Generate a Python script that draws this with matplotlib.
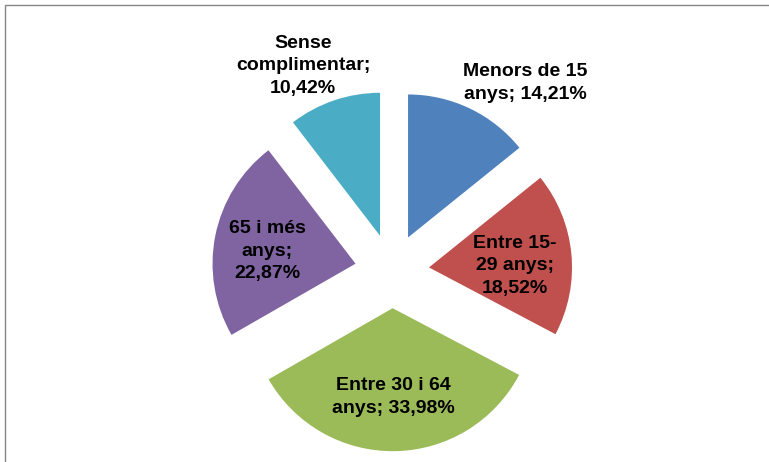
import matplotlib.pyplot as plt
from matplotlib.patches import Rectangle

# data
labels = ["Menors de 15\nanys; 14,21%", "Entre 15-\n29 anys;\n18,52%",
          "Entre 30 i 64\nanys; 33,98%", "65 i més\nanys;\n22,87%",
          "Sense\ncomplimentar;\n10,42%"]
values = [14.21, 18.52, 33.98, 22.87, 10.42]
colors = ["#4F81BD", "#C0504D", "#9BBB59", "#8064A2", "#4BACC6"]
# label centres in pixels (x, y from top), as Excel placed them
label_px = [(525, 83), (515, 266), (393, 397), (267, 251), (303, 66)]

W, H = 769, 462
R = 143.0           # pie radius in px
cx, cy = 392, 271   # pie centre in px from top-left

fig = plt.figure(figsize=(W / 100, H / 100), dpi=100)
ax = fig.add_axes([0, 0, 1, 1])

ax.pie(values, colors=colors, startangle=90, counterclock=False,
       explode=[0.26] * len(values), radius=1, center=(0, 0),
       wedgeprops=dict(linewidth=0))

ax.set_xlim(-cx / R, (W - cx) / R)
ax.set_ylim(-(H - cy) / R, cy / R)
ax.set_aspect("auto")
ax.axis("off")

for lab, (px, py) in zip(labels, label_px):
    ax.text((px - cx) / R, (cy - py) / R, lab, ha="center", va="center",
            fontsize=14, fontweight="bold", family="Liberation Sans",
            linespacing=1.4, color="black")

# chart area border (extends past the right and bottom edges)
fig.patches.append(Rectangle((4.5 / W, -0.1), 1.2, 1.1 - 4.5 / H,
                             transform=fig.transFigure, fill=False,
                             edgecolor="#868686", linewidth=1))

fig.savefig("out.png", dpi=100)
